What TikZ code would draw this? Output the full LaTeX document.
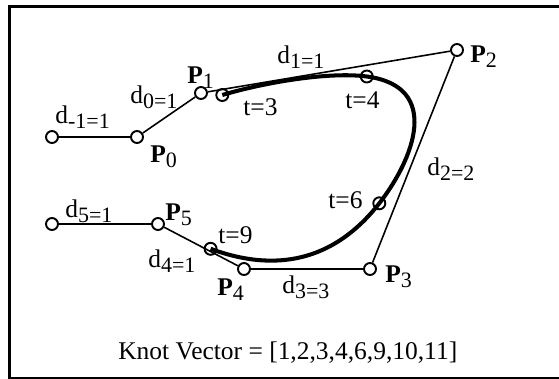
\documentclass[tikz,border=0pt]{standalone}
\usepackage{fontspec}
\setmainfont{Liberation Serif}
\usepackage{tikz}
\newcommand{\lsub}[1]{\raisebox{-3pt}{\fontsize{12.5}{14}\selectfont#1}}

\begin{document}
\begin{tikzpicture}[
  x=0.02cm, y=-0.02cm,
  font=\fontsize{14.5}{17}\selectfont,
  ctrl/.style={draw, circle, fill=white, line width=1.1pt, minimum size=0.24cm, inner sep=0pt},
  knot/.style={draw, circle, line width=1.1pt, minimum size=0.24cm, inner sep=0pt},
  poly/.style={line width=0.9pt},
  curv/.style={line width=2.3pt},
  lbl/.style={anchor=base west, inner sep=0pt}
]
\useasboundingbox (0,0) rectangle (559,379);
\clip (0,0) rectangle (559,379);
\draw[line width=1.7pt] (9.5,6.5) rectangle (568,378.5);

% control polygon
\node[ctrl] (pm1) at (52,137) {};
\node[ctrl] (p0) at (137,137) {};
\node[ctrl] (p1) at (201,93) {};
\node[ctrl] (p2) at (457,50) {};
\node[ctrl] (p3) at (370,269) {};
\node[ctrl] (p4) at (244,269) {};
\node[ctrl] (p5) at (158,224) {};
\node[ctrl] (p6) at (52,224) {};

\draw[poly] (pm1) -- (p0);
\draw[poly] (p0) -- (p1);
\draw[poly] (p1) -- (p2);
\draw[poly] (p2) -- (p3);
\draw[poly] (p3) -- (p4);
\draw[poly] (p4) -- (p5);
\draw[poly] (p5) -- (p6);

% curve, t=3 .. t=9
\node[knot] (k3) at (222.3,95) {};
\node[knot] (k4) at (366.8,76.5) {};
\node[knot] (k6) at (379.3,203.3) {};
\node[knot] (k9) at (210.6,248.8) {};
\draw[curv] (k3.center) .. controls (265,82.3) and (329,71.5) .. (k4.center)
  .. controls (442.5,86.5) and (413.5,159.5) .. (k6.center)
  .. controls (328,269) and (265,269) .. (k9.center);

% labels
\node[lbl] (ldm1) at (55,123) {d\lsub{-1=1}};
\node[lbl] (ld0) at (130,103) {d\lsub{0=1}};
\node[lbl] (ld1) at (277,63) {d\lsub{1=1}};
\node[lbl] (ld2) at (427,175) {d\lsub{2=2}};
\node[lbl] (ld3) at (282,293) {d\lsub{3=3}};
\node[lbl] (ld4) at (148,267) {d\lsub{4=1}};
\node[lbl] (ld5) at (65,217) {d\lsub{5=1}};
\node[lbl] (lp0) at (150,162) {\textbf{P}\lsub{0}};
\node[lbl] (lp1) at (187,83) {\textbf{P}\lsub{1}};
\node[lbl] (lp2) at (470,62) {\textbf{P}\lsub{2}};
\node[lbl] (lp3) at (385,282) {\textbf{P}\lsub{3}};
\node[lbl] (lp4) at (217,295) {\textbf{P}\lsub{4}};
\node[lbl] (lp5) at (165,220) {\textbf{P}\lsub{5}};
\node[lbl] (lt3) at (243,115) {t=3};
\node[lbl] (lt4) at (345,108) {t=4};
\node[lbl] (lt6) at (328,208) {t=6};
\node[lbl] (lt9) at (218,243) {t=9};
\node[lbl] (knots) at (118,359) {Knot Vector = [1,2,3,4,6,9,10,11]};
\end{tikzpicture}
\end{document}
